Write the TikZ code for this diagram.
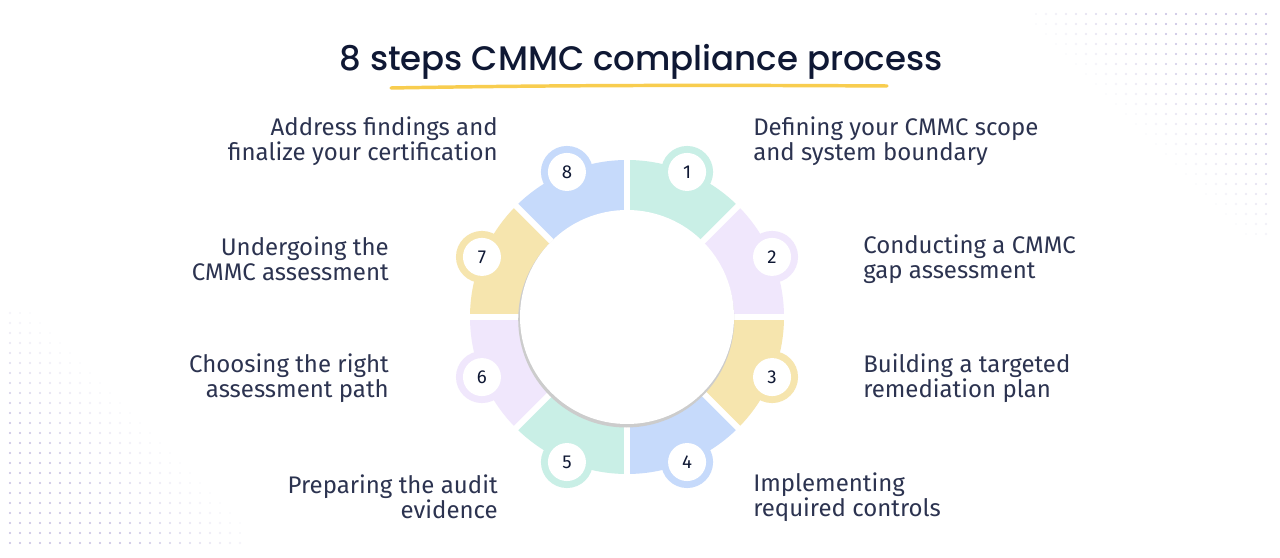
\documentclass[tikz,border=0pt]{standalone}
\usepackage{fontspec}
\setmainfont{Fira Sans}
\newfontfamily\titlefont{Poppins Medium}
\usetikzlibrary{positioning}
\definecolor{ink}{HTML}{0F1834}
\definecolor{ink2}{HTML}{2C3350}
\definecolor{cmint}{HTML}{C9EFE6}
\definecolor{clav}{HTML}{F0E7FC}
\definecolor{cyel}{HTML}{F6E5AE}
\definecolor{cblue}{HTML}{C6DAFB}
\definecolor{cline}{HTML}{F8CD4F}
\definecolor{cdot}{HTML}{AFA6D6}
\tikzset{
  steplabel/.style={font=\fontsize{18}{18.75}\selectfont, text=ink2, inner sep=0pt},
  badge/.style={circle, fill=white, minimum size=28.5pt, inner sep=0pt,
    font=\fontsize{14}{15}\selectfont, text=ink},
}

\begin{document}
\begin{tikzpicture}[x=0.75pt, y=0.75pt]
    \fill[white] (0,0) rectangle (1280,557);
    % faded dot grids in two corners
    \foreach \i in {0,...,23}{
      \foreach \j in {0,...,22}{
        \pgfmathsetmacro\op{max(0,min(1,(\i-\j+2)/14))*0.75}
        \fill[cdot, opacity=\op] (1036+10*\i,543-10*\j) circle[radius=1.1];
      }
    }
    \foreach \i in {0,...,23}{
      \foreach \j in {0,...,23}{
        \pgfmathsetmacro\op{max(0,min(1,(\j-\i+3)/14))*0.75}
        \fill[cdot, opacity=\op] (10+10*\i,244-10*\j) circle[radius=1.1];
      }
    }
    % title with brush underline
    \node[font=\titlefont\fontsize{25.5}{28}\selectfont, text=ink] (title) at (641,495) {8 steps CMMC compliance process};
    \draw[cline, line width=2.6pt, line cap=round] (391,469) .. controls (560,472) and (720,472) .. (887,471);
    \coordinate (hub) at (627,240);
    % ring segments and badge rings
    \foreach \i/\col in {1/cmint, 2/clav, 3/cyel, 4/cblue, 5/cmint, 6/clav, 7/cyel, 8/cblue}{
      \pgfmathsetmacro\a{90-45*(\i-1)}
      \pgfmathsetmacro\m{\a-22.5}
      \fill[\col] (hub) -- ++(\a:157) arc[start angle=\a, delta angle=-45, radius=157] -- cycle;
      \fill[\col] (hub) ++(\m:157) circle[radius=26];
    }
    % white gaps between segments
    \foreach \a in {0,45,...,315}{
      \draw[white, line width=4.5pt] (hub) -- ++(\a:165);
    }
    % centre disc with soft shadow
    \fill[black!20] (hub) ++(-0.8,-2.5) circle[radius=108];
    \fill[white] (hub) circle[radius=107];
    % numbered badges
    \foreach \i in {1,...,8}{
      \pgfmathsetmacro\m{67.5-45*(\i-1)}
      \path (hub) ++(\m:157) node[badge] (n\i) {\i};
    }
    % step texts
    \node[steplabel, anchor=west, align=left] (s1) at (753,416) {Defining your CMMC scope\\and system boundary};
    \node[steplabel, anchor=west, align=left] (s2) at (863,298) {Conducting a CMMC\\gap assessment};
    \node[steplabel, anchor=west, align=left] (s3) at (863,179) {Building a targeted\\remediation plan};
    \node[steplabel, anchor=west, align=left] (s4) at (753,60) {Implementing\\required controls};
    \node[steplabel, anchor=east, align=right] (s5) at (498,60) {Preparing the audit\\evidence};
    \node[steplabel, anchor=east, align=right] (s6) at (389,179) {Choosing the right\\assessment path};
    \node[steplabel, anchor=east, align=right] (s7) at (389,298) {Undergoing the\\CMMC assessment};
    \node[steplabel, anchor=east, align=right] (s8) at (498,416) {Address findings and\\finalize your certification};
\end{tikzpicture}
\end{document}
